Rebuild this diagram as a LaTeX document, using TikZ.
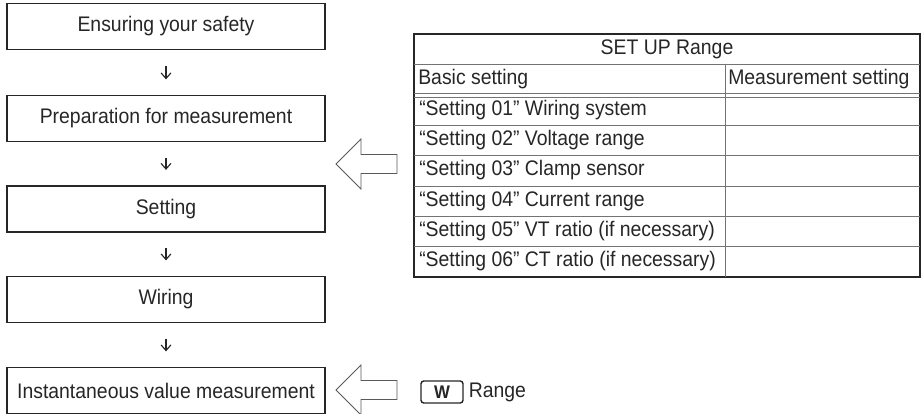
\documentclass[tikz,border=0pt]{standalone}
\usepackage{fontspec}
\setmainfont{Liberation Sans}[FakeStretch=0.92]
\usetikzlibrary{positioning, arrows.meta}

\begin{document}
\begin{tikzpicture}[
  x=0.025cm, y=-0.025cm,
  stepbox/.style={draw=black!85, line width=1.3pt, minimum width=7.95cm,
    minimum height=1.15cm, align=center, font=\fontsize{15}{17}\selectfont,
    text=black!85},
  cell/.style={anchor=west, inner sep=0pt, font=\fontsize{15}{17}\selectfont,
    text=black!85},
  tabframe/.style={draw=black!85, line width=1.3pt},
  tabrule/.style={draw=black!55, line width=0.6pt},
  down/.style={-{Straight Barb[length=4pt, width=7pt]}, line width=0.8pt,
    black!85, shorten <=0.38cm, shorten >=0.38cm},
  hollow/.style={draw=black!65, line width=0.7pt, fill=white},
  key/.style={draw=black!85, line width=1pt, rounded corners=2pt,
    minimum width=1.05cm, minimum height=0.55cm, inner sep=0pt,
    font=\fontsize{13}{13}\selectfont\bfseries, text=black!85},
  pics/hollowarrow/.style={code={
    \draw[hollow] (0,0) -- (25,-25) -- (25,-9.5) -- (61,-9.5) -- (61,9.5)
      -- (25,9.5) -- (25,25) -- cycle;}},
]
\useasboundingbox (0,0) rectangle (922,414);

% === Procedure (left) ===
\node[stepbox] (safety) at (166,26.5) {Ensuring your safety};
\node[stepbox] (prep) at (166,118.5) {Preparation for measurement};
\node[stepbox] (setting) at (166,209) {Setting};
\node[stepbox] (wiring) at (166,299.5) {Wiring};
\node[stepbox] (inst) at (166,390.5) {Instantaneous value measurement};

\foreach \a/\b in {safety/prep, prep/setting, setting/wiring, wiring/inst}
  \draw[down] (\a) -- (\b);

% hollow pointers
\pic at (336,164) {hollowarrow};
\pic at (336,390) {hollowarrow};

% === SET UP table (right) ===
\draw[tabframe] (414,34) rectangle (920,277);
\draw[tabrule] (414,64) -- (920,64);
\draw[tabrule] (414,93) -- (920,93) (414,97) -- (920,97);
\foreach \y in {125,155,186,216,246}
  \draw[tabrule] (414,\y) -- (920,\y);
\draw[tabrule] (725,64) -- (725,277);

\node[cell, anchor=center] (title) at (667,49) {SET UP Range};
\node[cell] (basic) at (418,79) {Basic setting};
\node[cell] (meas) at (728,79) {Measurement setting};

\foreach \y/\t [count=\i] in {110/{“Setting 01” Wiring system},
    140/{“Setting 02” Voltage range}, 170.5/{“Setting 03” Clamp sensor},
    201/{“Setting 04” Current range}, 231/{“Setting 05” VT ratio (if necessary)},
    261.5/{“Setting 06” CT ratio (if necessary)}}
  \node[cell] (set\i) at (419,\y) {\t};

% === key legend ===
\node[key] (wkey) at (442,392) {W};
\node[cell, right=0.12cm of wkey] (range) {Range};

\end{tikzpicture}
\end{document}
